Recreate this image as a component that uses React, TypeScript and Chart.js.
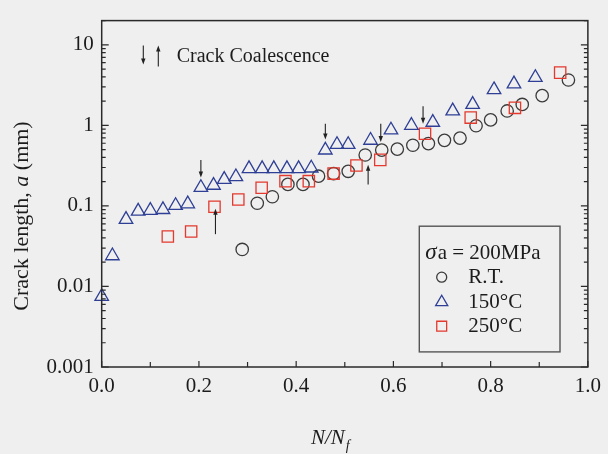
import React, { useEffect, useRef } from "react";
import { Chart, registerables } from "chart.js";

Chart.register(...registerables);

// ---- data ----
const rtX = [0.289, 0.320, 0.351, 0.383, 0.414, 0.446, 0.477, 0.507, 0.542, 0.576, 0.608, 0.640, 0.672, 0.705, 0.737, 0.770, 0.800, 0.834, 0.865, 0.906, 0.960];
const rtY = [0.0288, 0.108, 0.130, 0.185, 0.185, 0.234, 0.252, 0.269, 0.429, 0.493, 0.507, 0.567, 0.594, 0.652, 0.695, 0.990, 1.17, 1.51, 1.82, 2.34, 3.66];

const c150X = [0.000, 0.022, 0.050, 0.075, 0.100, 0.126, 0.152, 0.177, 0.204, 0.230, 0.252, 0.276, 0.303, 0.330, 0.354, 0.381, 0.405, 0.431, 0.460, 0.484, 0.507, 0.553, 0.595, 0.637, 0.681, 0.722, 0.763, 0.807, 0.848, 0.892];
const c150Y = [0.0075, 0.024, 0.068, 0.086, 0.088, 0.090, 0.101, 0.106, 0.169, 0.180, 0.213, 0.230, 0.290, 0.290, 0.290, 0.290, 0.290, 0.295, 0.493, 0.578, 0.578, 0.652, 0.875, 1.00, 1.09, 1.51, 1.82, 2.77, 3.27, 3.93];

const c250X = [0.136, 0.184, 0.232, 0.281, 0.329, 0.378, 0.426, 0.477, 0.524, 0.573, 0.665, 0.759, 0.850, 0.943];
const c250Y = [0.0418, 0.0481, 0.0975, 0.120, 0.168, 0.203, 0.203, 0.252, 0.318, 0.373, 0.787, 1.25, 1.65, 4.52];

const xTicks = [0, 0.2, 0.4, 0.6, 0.8, 1.0];
const xMinorTicks = [0.1, 0.3, 0.5, 0.7, 0.9];
const yTicks = [0.001, 0.01, 0.1, 1, 10];
const yTickLabels = ["0.001", "0.01", "0.1", "1", "10"];

// crack coalescence arrows (x, tail value, tip value)
const downArrowX = [0.204, 0.46, 0.574, 0.661];
const downArrowTail = [0.373, 1.05, 1.05, 1.73];
const downArrowTip = [0.225, 0.67, 0.62, 1.05];
const upArrowX = [0.234, 0.548];
const upArrowTail = [0.0446, 0.185];
const upArrowTip = [0.092, 0.324];

const seriesLabels = ["R.T.", "150\u00B0C", "250\u00B0C"];
const legendTitle = "a = 200MPa";
const annotationText = "Crack Coalescence";

const COL_RT = "#3a3a3a";
const COL_150 = "#2e3f95";
const COL_250 = "#e4392e";
const INK = "#1c1c1c";
const SERIF = '"Liberation Serif", "DejaVu Serif", serif';

function marker(ctx: CanvasRenderingContext2D, style: string, x: number, y: number, r: number) {
  ctx.beginPath();
  if (style === "circle") {
    ctx.arc(x, y, r, 0, Math.PI * 2);
  } else if (style === "triangle") {
    for (let i = 0; i < 3; i++) {
      const a = (i * 2 * Math.PI) / 3;
      const px = x + Math.sin(a) * r;
      const py = y - Math.cos(a) * r;
      if (i === 0) ctx.moveTo(px, py);
      else ctx.lineTo(px, py);
    }
    ctx.closePath();
  } else {
    const s = r * Math.SQRT1_2;
    ctx.rect(x - s, y - s, 2 * s, 2 * s);
  }
  ctx.stroke();
}

function arrow(ctx: CanvasRenderingContext2D, x: number, yTail: number, yTip: number) {
  const dir = Math.sign(yTip - yTail);
  ctx.beginPath();
  ctx.moveTo(x, yTail);
  ctx.lineTo(x, yTip - dir * 3);
  ctx.stroke();
  ctx.beginPath();
  ctx.moveTo(x, yTip);
  ctx.lineTo(x - 2.2, yTip - dir * 6);
  ctx.lineTo(x + 2.2, yTip - dir * 6);
  ctx.closePath();
  ctx.fill();
}

const decorPlugin = {
  id: "decor",
  beforeDraw(chart: any) {
    const { ctx, width, height } = chart;
    ctx.save();
    ctx.fillStyle = "#efefef";
    ctx.fillRect(0, 0, width, height);
    ctx.restore();
  },
  afterDraw(chart: any) {
    const { ctx, chartArea: a } = chart;
    const xs = chart.scales.x;
    const ys = chart.scales.y;
    ctx.save();

    // frame
    ctx.strokeStyle = "#2a2a2a";
    ctx.lineWidth = 1.5;
    ctx.strokeRect(a.left, a.top, a.right - a.left, a.bottom - a.top);

    // y ticks (log, inward, both sides)
    ctx.lineWidth = 1.2;
    for (let d = -3; d <= 1; d++) {
      for (let m = 1; m <= 9; m++) {
        const v = m * Math.pow(10, d);
        if (v < 0.001 || v > 20) continue;
        const py = ys.getPixelForValue(v);
        const len = m === 1 ? 7 : 4;
        ctx.beginPath();
        ctx.moveTo(a.left, py);
        ctx.lineTo(a.left + len, py);
        ctx.moveTo(a.right, py);
        ctx.lineTo(a.right - len, py);
        ctx.stroke();
      }
    }
    // x ticks (inward, bottom)
    [...xTicks, ...xMinorTicks].forEach((v, i) => {
      const px = xs.getPixelForValue(v);
      const len = i < xTicks.length ? 6 : 5;
      ctx.beginPath();
      ctx.moveTo(px, a.bottom);
      ctx.lineTo(px, a.bottom - len);
      ctx.stroke();
    });

    // coalescence arrows
    ctx.strokeStyle = "#222";
    ctx.fillStyle = "#222";
    ctx.lineWidth = 1.1;
    downArrowX.forEach((v, i) => {
      arrow(ctx, xs.getPixelForValue(v), ys.getPixelForValue(downArrowTail[i]), ys.getPixelForValue(downArrowTip[i]));
    });
    upArrowX.forEach((v, i) => {
      arrow(ctx, xs.getPixelForValue(v), ys.getPixelForValue(upArrowTail[i]), ys.getPixelForValue(upArrowTip[i]));
    });

    // annotation at top-left
    const ax = a.left + 41.6;
    arrow(ctx, ax, a.top + 25, a.top + 44);
    arrow(ctx, ax + 15, a.top + 46, a.top + 25);
    ctx.fillStyle = INK;
    ctx.font = `20px ${SERIF}`;
    ctx.textBaseline = "middle";
    ctx.textAlign = "left";
    ctx.fillText(annotationText, a.left + 75, a.top + 36);

    // legend box
    const lx = a.left + 317.6;
    const ly = a.top + 205.6;
    ctx.fillStyle = "#efefef";
    ctx.fillRect(lx, ly, 140.7, 125.7);
    ctx.strokeStyle = "#555";
    ctx.lineWidth = 1.4;
    ctx.strokeRect(lx, ly, 140.7, 125.7);
    ctx.fillStyle = INK;
    ctx.font = `italic 23px ${SERIF}`;
    ctx.fillText("\u03C3", lx + 6, ly + 27);
    const sw = ctx.measureText("\u03C3").width;
    ctx.font = `21px ${SERIF}`;
    ctx.fillText(legendTitle, lx + 6 + sw + 1, ly + 27);
    const rows = [51, 76, 100];
    const styles = ["circle", "triangle", "rect"];
    const cols = [COL_RT, COL_150, COL_250];
    const radii = [5, 7, 7];
    rows.forEach((dy, i) => {
      ctx.strokeStyle = cols[i];
      ctx.lineWidth = 1.3;
      marker(ctx, styles[i], lx + 22.4, ly + dy, radii[i]);
      ctx.fillStyle = INK;
      ctx.font = `21px ${SERIF}`;
      ctx.fillText(seriesLabels[i], lx + 49, ly + dy);
    });

    // y title
    ctx.save();
    ctx.translate(22, 216);
    ctx.rotate(-Math.PI / 2);
    const parts = [
      { t: "Crack length, ", f: `22px ${SERIF}` },
      { t: "a", f: `italic 22px ${SERIF}` },
      { t: " (mm)", f: `22px ${SERIF}` },
    ];
    let total = 0;
    parts.forEach((p) => {
      ctx.font = p.f;
      total += ctx.measureText(p.t).width;
    });
    let cx = -total / 2;
    ctx.textBaseline = "middle";
    ctx.fillStyle = INK;
    parts.forEach((p) => {
      ctx.font = p.f;
      ctx.fillText(p.t, cx, 0);
      cx += ctx.measureText(p.t).width;
    });
    ctx.restore();

    // x title
    ctx.fillStyle = INK;
    ctx.textBaseline = "alphabetic";
    ctx.font = `italic 21px ${SERIF}`;
    const xt = "N/N";
    const x0 = 311;
    ctx.fillText(xt, x0, 444);
    const w = ctx.measureText(xt).width;
    ctx.font = `italic 14px ${SERIF}`;
    ctx.fillText("f", x0 + w + 1, 450);

    ctx.restore();
  },
};

export default function App() {
  const ref = useRef<HTMLCanvasElement | null>(null);
  useEffect(() => {
    if (!ref.current) return;
    const mk = (xs: number[], ys: number[]) => xs.map((x, i) => ({ x, y: ys[i] }));
    const chart = new Chart(ref.current, {
      type: "scatter",
      data: {
        datasets: [
          {
            label: seriesLabels[1],
            data: mk(c150X, c150Y),
            pointStyle: "triangle",
            pointRadius: 7.8,
            borderColor: COL_150,
            backgroundColor: "rgba(0,0,0,0)",
            pointBorderWidth: 1.3,
            clip: false,
          } as any,
          {
            label: seriesLabels[2],
            data: mk(c250X, c250Y),
            pointStyle: "rect",
            pointRadius: 8,
            borderColor: COL_250,
            backgroundColor: "rgba(0,0,0,0)",
            pointBorderWidth: 1.3,
            clip: false,
          } as any,
          {
            label: seriesLabels[0],
            data: mk(rtX, rtY),
            pointStyle: "circle",
            pointRadius: 6.2,
            borderColor: COL_RT,
            backgroundColor: "rgba(0,0,0,0)",
            pointBorderWidth: 1.3,
            clip: false,
          } as any,
        ],
      },
      options: {
        animation: false,
        responsive: false,
        maintainAspectRatio: false,
        events: [],
        layout: { padding: { top: 12.7, right: 17, left: 0, bottom: 0 } },
        plugins: { legend: { display: false }, tooltip: { enabled: false } },
        scales: {
          x: {
            type: "linear",
            min: 0,
            max: 1,
            afterFit: (s: any) => {
              s.height = 87;
            },
            afterBuildTicks: (s: any) => {
              s.ticks = xTicks.map((v) => ({ value: v }));
            },
            grid: { display: true, drawOnChartArea: false, drawTicks: false, color: "rgba(0,0,0,0)" },
            border: { display: false },
            ticks: {
              autoSkip: false,
              maxRotation: 0,
              padding: 7,
              color: INK,
              font: { family: SERIF, size: 21 },
              callback: (v: any) => Number(v).toFixed(1),
            },
          },
          y: {
            type: "logarithmic",
            min: 0.001,
            max: 20,
            afterFit: (s: any) => {
              s.width = 101.7;
            },
            afterBuildTicks: (s: any) => {
              s.ticks = yTicks.map((v) => ({ value: v }));
            },
            grid: { display: true, drawOnChartArea: false, drawTicks: false, color: "rgba(0,0,0,0)" },
            border: { display: false },
            ticks: {
              autoSkip: false,
              padding: 8,
              color: INK,
              font: { family: SERIF, size: 21 },
              callback: (v: any) => {
                const i = yTicks.findIndex((t) => Math.abs(t - Number(v)) / t < 1e-6);
                return i >= 0 ? yTickLabels[i] : "";
              },
            },
          },
        },
      },
      plugins: [decorPlugin],
    } as any);
    return () => chart.destroy();
  }, []);
  return (
    <div style={{ position: "fixed", left: 0, top: 0, width: 608, height: 454, background: "#efefef" }}>
      <canvas ref={ref} width={608} height={454} style={{ display: "block", width: 608, height: 454 }} />
    </div>
  );
}
